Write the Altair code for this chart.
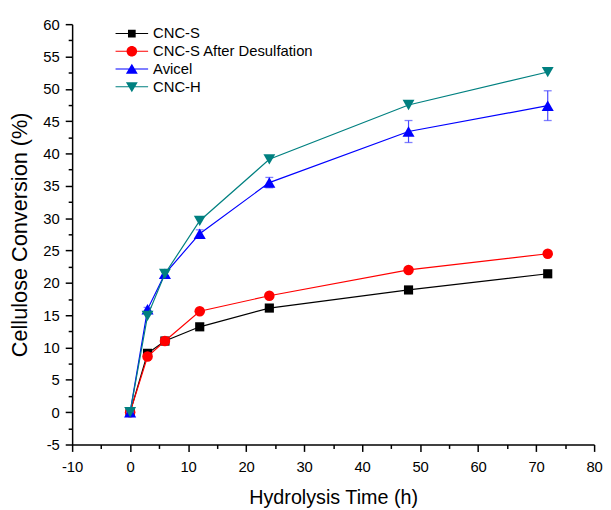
import altair as alt
import pandas as pd

# ---- data ----
time = [0, 3, 6, 12, 24, 48, 72]
cnc_s = [0, 9.1, 11.0, 13.2, 16.1, 18.9, 21.4]
cnc_s_desulf = [0, 8.6, 11.0, 15.6, 18.0, 22.0, 24.5]
avicel = [0, 15.9, 21.4, 27.6, 35.5, 43.4, 47.4]
avicel_err = [0, 0.3, 0.3, 0.6, 0.8, 1.7, 2.3]
cnc_h = [0, 14.9, 21.4, 29.6, 39.1, 47.5, 52.6]

names = ["CNC-S", "CNC-S After Desulfation", "Avicel", "CNC-H"]
colors = ["#000000", "#FF0000", "#0000FF", "#008080"]
shapes = ["square", "circle", "triangle-up", "triangle-down"]
sizes = [86, 114, 150, 144]

x_ticks = list(range(-10, 81, 5))
y_ticks = [-5 + 2.5 * i for i in range(27)]

# legend symbols: line segment + marker (path units, scaled by sqrt(symbolSize)/2)
seg = "M-5.1,-0.1H1.5V0.1H-5.1Z "
legend_paths = [
    seg + "M-2.58,-0.78H-1.02V0.78H-2.58Z",
    seg + "M-2.87,0A1.07,1.07 0 1,1 -0.73,0A1.07,1.07 0 1,1 -2.87,0Z",
    seg + "M-1.8,-1.1L-0.6,0.95L-3.0,0.95Z",
    seg + "M-1.8,1.1L-3.0,-0.95L-0.6,-0.95Z",
]

series_values = [cnc_s, cnc_s_desulf, avicel, cnc_h]
rows = []
for n, vals in zip(names, series_values):
    for t, v in zip(time, vals):
        rows.append({"series": n, "time": t, "value": v})
df = pd.DataFrame(rows)

err_df = pd.DataFrame({
    "time": time,
    "lo": [v - e for v, e in zip(avicel, avicel_err)],
    "hi": [v + e for v, e in zip(avicel, avicel_err)],
})

font = "Liberation Sans"
xs = alt.Scale(domain=[-10, 80], nice=False, zero=False)
ys = alt.Scale(domain=[-5, 60], nice=False, zero=False)
cs = alt.Scale(domain=names, range=colors)

xaxis = alt.Axis(
    values=x_ticks,
    labelExpr="datum.value % 10 === 0 ? '' + datum.value : ''",
    tickSize={"condition": {"test": "datum.value % 10 === 0", "value": 7}, "value": 4},
    labelFlush=False, labelOverlap=False, labelPadding=8, titlePadding=14,
    titleFontSize=20,
)
yaxis = alt.Axis(
    values=y_ticks,
    labelExpr="datum.value % 5 === 0 ? '' + datum.value : ''",
    tickSize={"condition": {"test": "datum.value % 5 === 0", "value": 7}, "value": 4},
    labelOverlap=False, labelPadding=6, titlePadding=12,
    titleFontSize=22,
)
xtitle = "Hydrolysis Time (h)"
ytitle = "Cellulose Conversion (%)"

X = alt.X("time:Q", scale=xs, axis=xaxis, title=xtitle)
Y = alt.Y("value:Q", scale=ys, axis=yaxis, title=ytitle)

base = alt.Chart(df)
layers = []
for i, n in enumerate(names):
    sub = base.transform_filter(alt.datum.series == n)
    layers.append(
        sub.mark_line(strokeWidth=1.2, color=colors[i]).encode(x=X, y=Y)
    )
    if n == "Avicel":
        eb = alt.Chart(err_df)
        layers.append(
            eb.mark_rule(color="#4a4aff", strokeWidth=1.2).encode(
                x=alt.X("time:Q", scale=xs, axis=xaxis, title=xtitle),
                y=alt.Y("lo:Q", scale=ys, axis=yaxis, title=ytitle),
                y2="hi:Q",
            )
        )
        layers.append(
            eb.transform_fold(["lo", "hi"], as_=["k", "v"])
            .mark_tick(orient="horizontal", size=8, thickness=1.3, color="#4a4aff")
            .encode(
                x=alt.X("time:Q", scale=xs, axis=xaxis, title=xtitle),
                y=alt.Y("v:Q", scale=ys, axis=yaxis, title=ytitle),
            )
        )
    layers.append(
        sub.mark_point(filled=True, opacity=1, shape=shapes[i], size=sizes[i],
                       color=colors[i]).encode(x=X, y=Y)
    )

leg = alt.Legend(
    title=None, orient="none", legendX=62, legendY=2,
    symbolSize=100, symbolStrokeWidth=0, symbolOpacity=1,
    labelOffset=5, labelFontSize=15, labelFont=font, labelColor="black",
    rowPadding=2, labelLimit=400,
)
# legend-only layer: no rows pass the filter, the legend comes from the scales
legend_layer = base.transform_filter(alt.datum.time < -100).mark_point(filled=True, opacity=1).encode(
    x=X, y=Y,
    color=alt.Color("series:N", scale=cs, legend=leg),
    shape=alt.Shape("series:N", scale=alt.Scale(domain=names, range=legend_paths), legend=leg),
)
layers.append(legend_layer)

chart = (
    alt.layer(*layers)
    .properties(
        width=529, height=426,
        autosize=alt.AutoSizeParams(type="none"),
        padding={"left": 65, "top": 13, "right": 9, "bottom": 64},
        background="white",
    )
    .configure_view(stroke=None)
    .configure_axis(
        labelFont=font, titleFont=font, labelFontSize=15,
        labelColor="black", titleColor="black", titleFontWeight="normal",
        domainColor="black", tickColor="black", domainWidth=1.5, tickWidth=1.5,
        grid=False,
    )
)

chart.save("out.html", embed_options={"renderer": "svg", "actions": False})
